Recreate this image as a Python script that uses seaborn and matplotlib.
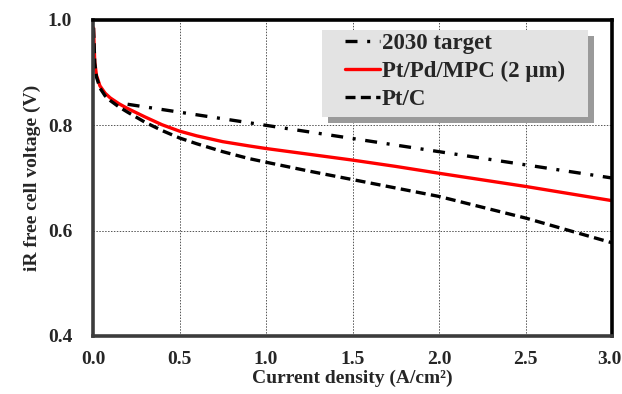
"""iR-free polarization curves vs. 2030 target."""

import matplotlib

matplotlib.use("Agg")
import matplotlib.pyplot as plt
import matplotlib.transforms as mtransforms
import pandas as pd
import seaborn as sns
from matplotlib.patches import Rectangle

# --- Data ---
target_x = [0.2, 1.0, 2.0, 3.0]
target_v = [0.840, 0.800, 0.750, 0.700]

current = [0.003, 0.01, 0.02, 0.04, 0.07, 0.1, 0.15, 0.2, 0.3, 0.4, 0.5, 0.6,
           0.75, 0.9, 1.0, 1.25, 1.5, 1.75, 2.0, 2.5, 3.0]
ptpd_v = [0.985, 0.920, 0.895, 0.875, 0.861, 0.852, 0.841, 0.832, 0.816, 0.801, 0.789, 0.780,
          0.769, 0.761, 0.756, 0.745, 0.734, 0.722, 0.709, 0.684, 0.657]
ptc_v = [0.985, 0.918, 0.892, 0.871, 0.856, 0.847, 0.835, 0.825, 0.806, 0.790, 0.776, 0.765,
         0.750, 0.737, 0.730, 0.713, 0.697, 0.681, 0.665, 0.624, 0.577]

labels = ["2030 target", "Pt/Pd/MPC (2 \u00b5m)", "Pt/C"]
x_ticks = [0.0, 0.5, 1.0, 1.5, 2.0, 2.5, 3.0]
y_ticks = [0.4, 0.6, 0.8, 1.0]

sns.set_theme(style="white")
plt.rcParams["font.family"] = ["Liberation Serif", "DejaVu Serif"]
plt.rcParams["font.weight"] = "bold"

df = pd.concat(
    [
        pd.DataFrame({"x": target_x, "v": target_v, "series": labels[0]}),
        pd.DataFrame({"x": current, "v": ptpd_v, "series": labels[1]}),
        pd.DataFrame({"x": current, "v": ptc_v, "series": labels[2]}),
    ],
    ignore_index=True,
)

fig = plt.figure(figsize=(6.22, 3.94), dpi=100)
ax = fig.add_axes([93 / 622, 1 - 336 / 394, 519 / 622, 316 / 394])

styles = {
    labels[0]: dict(color="black", dashes=(3.6, 2.9, 0.9, 2.9)),
    labels[1]: dict(color="#ff0000", dashes=()),
    labels[2]: dict(color="black", dashes=(3, 1.6)),
}
for name in labels:
    sub = df[df["series"] == name]
    st = styles[name]
    line = sns.lineplot(data=sub, x="x", y="v", ax=ax, color=st["color"], lw=2.4,
                        label=name, sort=False, estimator=None).lines[-1]
    if st["dashes"]:
        line.set_dashes(st["dashes"])

ax.set_xlim(0, 3.0)
ax.set_ylim(0.4, 1.0)
ax.set_xticks(x_ticks)
ax.set_yticks(y_ticks)
ax.set_xticklabels([f"{t:.1f}" for t in x_ticks], fontsize=14, fontweight="bold")
ax.set_yticklabels([f"{t:.1f}" for t in y_ticks], fontsize=14, fontweight="bold")
ax.tick_params(axis="x", length=0, pad=11)
ax.tick_params(axis="y", length=0, pad=15)
# keep the last x label inside the canvas
last = ax.get_xticklabels()[-1]
last.set_transform(last.get_transform() + mtransforms.ScaledTranslation(-3 / 100, 0, fig.dpi_scale_trans))

ax.grid(True, color="#555555", linestyle=(0, (1.5, 1.5)), linewidth=0.7)
for s in ax.spines.values():
    s.set_visible(True)
    s.set_color("black")
    s.set_linewidth(2.6)
ax.spines["left"].set_color("#3c3c3c")
ax.spines["bottom"].set_color("#3c3c3c")

ax.set_xlabel("Current density (A/cm\u00b2)", fontsize=14, fontweight="bold", labelpad=1)
ax.set_ylabel("iR free cell voltage (V)", fontsize=14, fontweight="bold", labelpad=5)

# --- Legend box: grey panel with drop shadow ---
box_x0, box_y0, box_w, box_h = 0.441, 0.693, 0.513, 0.275
ax.add_patch(Rectangle((box_x0 + 6 / 519, box_y0 - 6 / 316), box_w, box_h, transform=ax.transAxes,
                       facecolor="#9a9a9a", edgecolor="none", zorder=4))
ax.add_patch(Rectangle((box_x0, box_y0), box_w, box_h, transform=ax.transAxes,
                       facecolor="#e3e3e3", edgecolor="none", zorder=5))

leg = ax.legend(
    loc="upper left",
    bbox_to_anchor=(0.486, 0.958),
    frameon=False,
    prop={"size": 16.5, "weight": "bold"},
    handlelength=1.5,
    handletextpad=0.1,
    labelspacing=0.29,
    borderpad=0,
    borderaxespad=0,
)
leg.set_zorder(6)

fig.savefig("out.png", dpi=100, facecolor="white")
